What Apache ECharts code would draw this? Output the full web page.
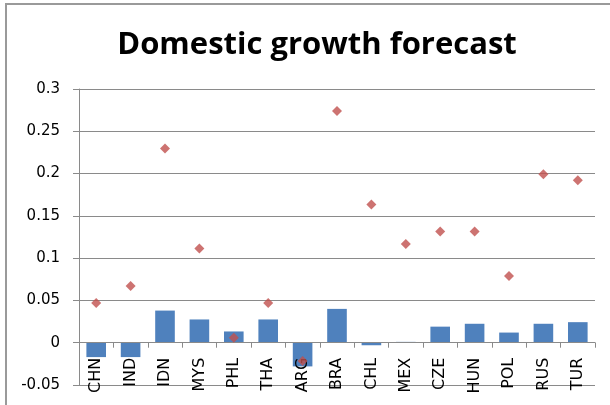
<!DOCTYPE html>
<html>
<head>
<meta charset="utf-8">
<title>Domestic growth forecast</title>
<script src="https://cdn.jsdelivr.net/npm/echarts@6/dist/echarts.min.js"></script>
<style>
  html, body { margin: 0; padding: 0; background: #ffffff; }
  #chart { width: 610px; height: 405px; }
</style>
</head>
<body>
<div id="chart"></div>
<script>
// Country codes along the category axis
const countries = ['CHN', 'IND', 'IDN', 'MYS', 'PHL', 'THA', 'ARG', 'BRA', 'CHL', 'MEX', 'CZE', 'HUN', 'POL', 'RUS', 'TUR'];

// Column series
const barValues = [-0.017, -0.017, 0.038, 0.0275, 0.0133, 0.0275, -0.028, 0.040, -0.003, 0.001, 0.019, 0.0224, 0.012, 0.0224, 0.0243];

// Diamond marker series
const pointValues = [0.047, 0.067, 0.2295, 0.1115, 0.006, 0.047, -0.0217, 0.274, 0.1635, 0.1167, 0.1316, 0.1316, 0.079, 0.1993, 0.1922];

// Value axis range and step
const yMin = -0.05;
const yMax = 0.3;
const yStep = 0.05;

const gridColor = '#8a8a8a';

// Plot box in pixels
const plotTop = 89;
const plotBottom = 20;
const plotHeight = 405 - plotTop - plotBottom;
// Lift the category axis from the bottom edge up to the zero line
const zeroLift = plotHeight * (0 - yMin) / (yMax - yMin);

const chart = echarts.init(document.getElementById('chart'), null, { renderer: 'canvas' });

chart.setOption({
  backgroundColor: '#ffffff',
  animation: false,
  title: {
    text: 'Domestic growth forecast',
    left: 312,
    textAlign: 'center',
    top: 25,
    textStyle: {
      fontFamily: 'Open Sans',
      fontWeight: 'bold',
      fontSize: 31,
      color: '#000000'
    }
  },
  graphic: [{
    type: 'rect',
    shape: { x: 6, y: 4, width: 700, height: 500 },
    style: { fill: 'none', stroke: '#9a9a9a', lineWidth: 2 },
    silent: true
  }],
  grid: {
    left: 79,
    right: 15,
    top: plotTop,
    bottom: plotBottom,
    containLabel: false,
    outerBoundsMode: 'none'
  },
  xAxis: {
    type: 'category',
    data: countries,
    boundaryGap: true,
    offset: -zeroLift,
    z: 4,
    axisLine: { show: true, onZero: false, lineStyle: { color: gridColor, width: 1 } },
    axisTick: { show: true, inside: false, length: 5, interval: 0, lineStyle: { color: gridColor } },
    axisLabel: {
      interval: 0,
      rotate: 90,
      margin: 15,
      fontFamily: 'DejaVu Sans',
      fontSize: 16,
      color: '#000000'
    },
    splitLine: { show: false }
  },
  yAxis: {
    type: 'value',
    min: yMin,
    max: yMax,
    interval: yStep,
    axisLine: { show: true, lineStyle: { color: gridColor, width: 1 } },
    axisTick: { show: true, inside: false, length: 6, lineStyle: { color: gridColor } },
    axisLabel: {
      margin: 19,
      fontFamily: 'DejaVu Sans',
      fontSize: 15,
      color: '#000000',
      formatter: v => String(parseFloat(v.toFixed(2)))
    },
    splitLine: { show: true, lineStyle: { color: gridColor, width: 1 } }
  },
  series: [
    {
      type: 'bar',
      data: barValues,
      barWidth: '57%',
      itemStyle: { color: '#4F81BD' },
      z: 2
    },
    {
      type: 'scatter',
      data: pointValues,
      symbol: 'diamond',
      symbolSize: 10,
      itemStyle: { color: '#C0504D' },
      z: 5
    }
  ]
});
</script>
</body>
</html>
